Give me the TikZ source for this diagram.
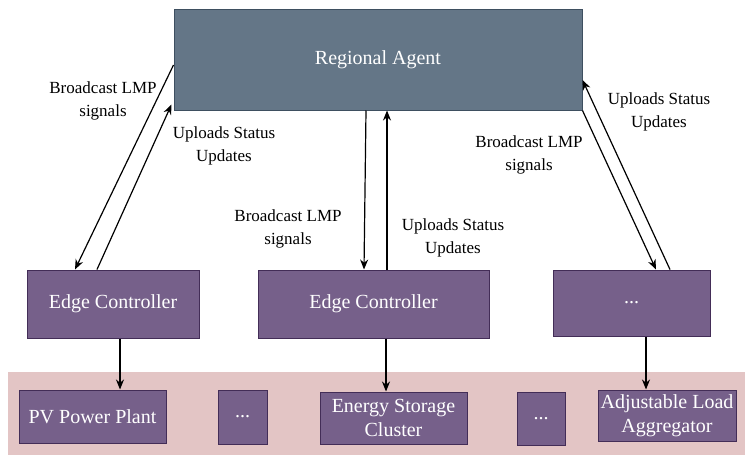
\documentclass[tikz,border=0pt]{standalone}
\usepackage{fontspec}
\setmainfont{Liberation Serif}
\usetikzlibrary{arrows.meta,calc}
\definecolor{ragray}{HTML}{647687}
\definecolor{raedge}{HTML}{3E4F60}
\definecolor{purp}{HTML}{76608A}
\definecolor{purpedge}{HTML}{432D57}
\definecolor{band}{HTML}{E3C5C5}
\tikzset{
  agentbox/.style={draw=raedge, line width=1pt, fill=ragray, text=white, inner sep=0pt, align=center,
    font=\fontsize{20}{24}\selectfont},
  unitbox/.style={draw=purpedge, line width=1pt, fill=purp, text=white, inner sep=0pt, align=center,
    font=\fontsize{20}{24}\selectfont},
  lbl/.style={align=center, inner sep=0pt, font=\fontsize{17}{22.5}\selectfont},
  conn/.style={line width=1.2pt, -{Stealth[length=10pt,width=8pt]}},
}
\begin{document}
\begin{tikzpicture}[x=1pt,y=-1pt]
\useasboundingbox (0,0) rectangle (745,455);
\fill[white] (0,0) rectangle (745,455);
\fill[band] (8,372) rectangle (745,455);
\node[agentbox, minimum width=408pt, minimum height=101pt] (RA) at (378,59.5) {Regional Agent};
\node[unitbox, minimum width=172pt, minimum height=68pt] (EC1) at (113,304) {Edge Controller};
\node[unitbox, minimum width=231pt, minimum height=68pt] (EC2) at (373.5,304) {Edge Controller};
\node[unitbox, minimum width=157pt, minimum height=66pt] (D1) at (631.5,303) {...};
\node[unitbox, minimum width=147pt, minimum height=53pt] (PV) at (92.5,416.5) {PV Power Plant};
\node[unitbox, minimum width=49pt, minimum height=54pt] (DA) at (242.5,417) {...};
\node[unitbox, minimum width=147pt, minimum height=52pt] (ESC) at (393.5,418) {Energy Storage\\Cluster};
\node[unitbox, minimum width=48pt, minimum height=53pt] (DB) at (541,418.5) {...};
\node[unitbox, minimum width=138pt, minimum height=51pt] (ALA) at (667,415.5) {Adjustable Load\\Aggregator};
% connectors
\draw[conn] ([yshift=-5.5pt]RA.west) -- ([xshift=-38pt]EC1.north);
\draw[conn] ([xshift=-16pt]EC1.north) -- ([xshift=-2pt,yshift=6pt]RA.south west);
\draw[conn] ([xshift=-12pt]RA.south) -- ([xshift=-9.5pt]EC2.north);
\draw[conn] ([xshift=13.5pt]EC2.north) -- ([xshift=9pt]RA.south);
\draw[conn] (RA.south east) -- ([xshift=24.5pt]D1.north);
\draw[conn] ([xshift=38.5pt]D1.north) -- ([yshift=-20.5pt]RA.east);
\draw[conn] ([xshift=7pt]EC1.south) -- ([xshift=27.5pt]PV.north);
\draw[conn] ([xshift=12.5pt]EC2.south) -- ([xshift=-7.5pt]ESC.north);
\draw[conn] ([xshift=14.5pt]D1.south) -- ([xshift=-21pt]ALA.north);
% labels
\node[lbl] (L1) at (103,101) {Broadcast LMP\\signals};
\node[lbl] (L2) at (224,146) {Uploads Status\\Updates};
\node[lbl] (L3) at (288,229) {Broadcast LMP\\signals};
\node[lbl] (L4) at (453,238) {Uploads Status\\Updates};
\node[lbl] (L5) at (529,155) {Broadcast LMP\\signals};
\node[lbl] (L6) at (659,112) {Uploads Status\\Updates};
\end{tikzpicture}
\end{document}
